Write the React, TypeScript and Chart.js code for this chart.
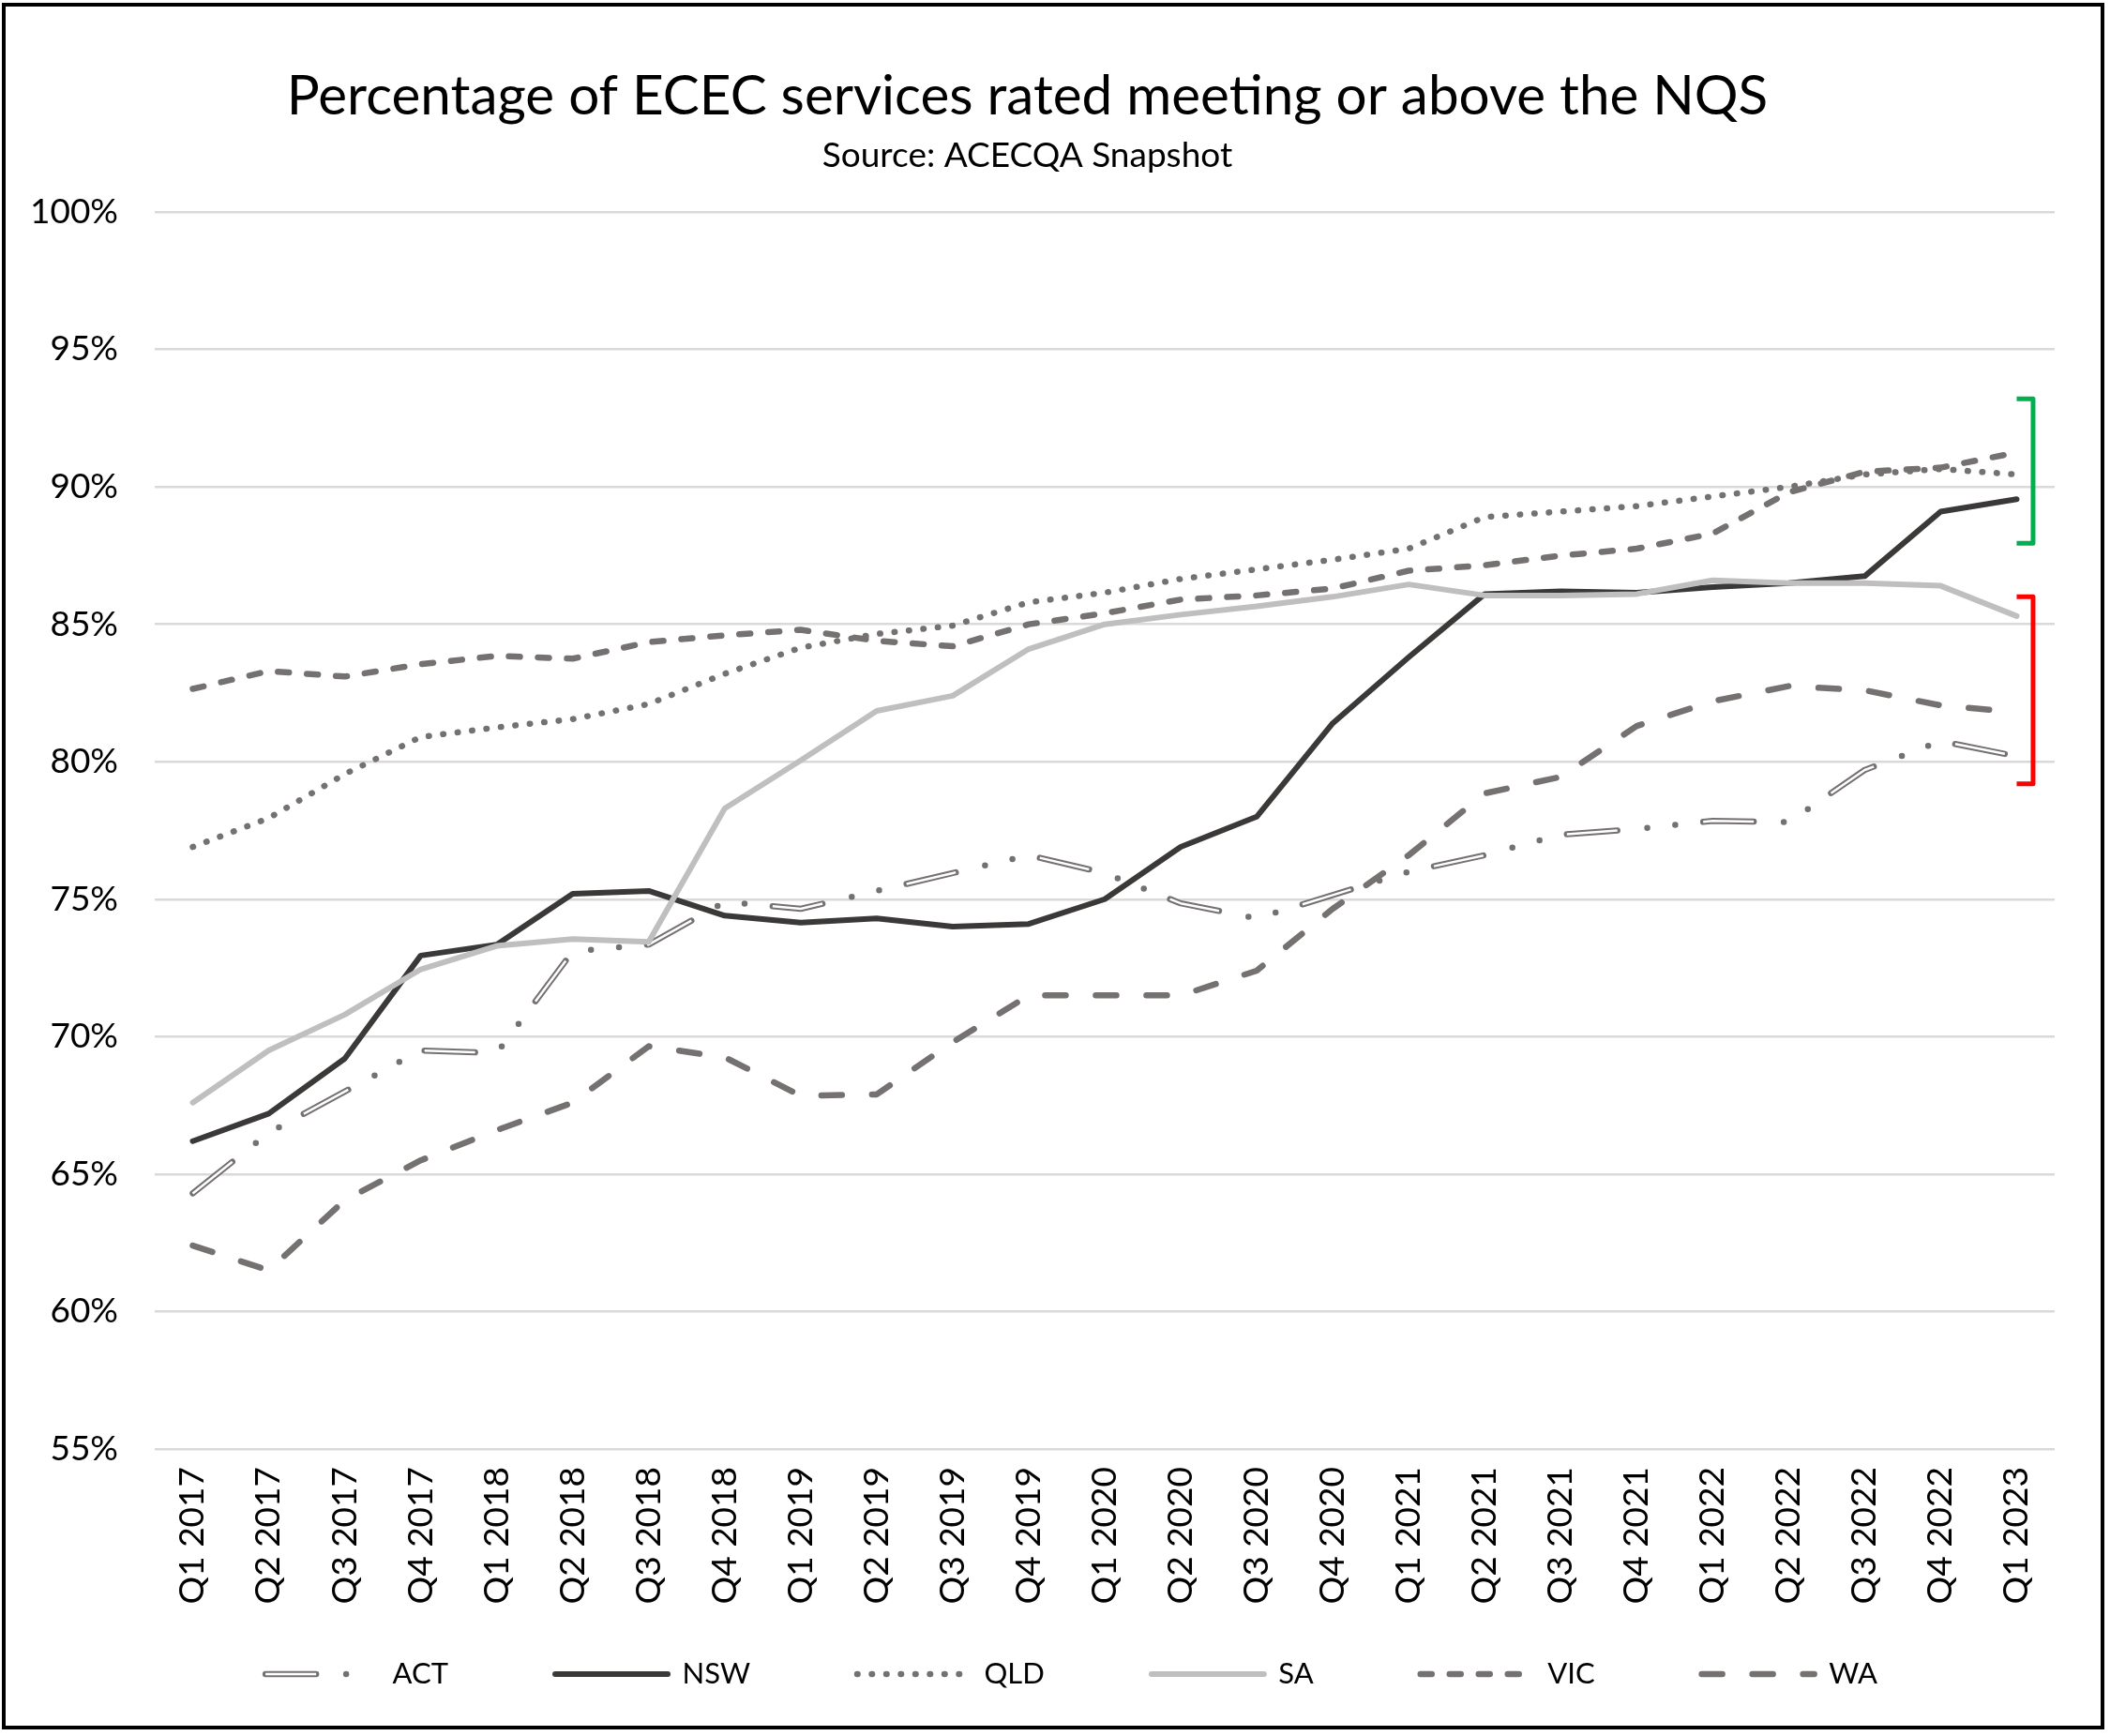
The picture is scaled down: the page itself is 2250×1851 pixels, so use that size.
import React, { useEffect, useRef } from "react";
import { Chart, registerables } from "chart.js";

Chart.register(...registerables);

const quarters = [
  "Q1 2017", "Q2 2017", "Q3 2017", "Q4 2017",
  "Q1 2018", "Q2 2018", "Q3 2018", "Q4 2018",
  "Q1 2019", "Q2 2019", "Q3 2019", "Q4 2019",
  "Q1 2020", "Q2 2020", "Q3 2020", "Q4 2020",
  "Q1 2021", "Q2 2021", "Q3 2021", "Q4 2021",
  "Q1 2022", "Q2 2022", "Q3 2022", "Q4 2022",
  "Q1 2023",
];

const actValues = [64.3, 66.5, 68.0, 69.5, 69.4, 73.1, 73.35, 74.9, 74.65, 75.3, 75.95, 76.6, 75.95, 74.85, 74.3, 75.15, 76.0, 76.6, 77.35, 77.55, 77.85, 77.8, 79.7, 80.75, 80.2];
const nswValues = [66.2, 67.2, 69.2, 72.95, 73.35, 75.2, 75.3, 74.4, 74.15, 74.3, 74.0, 74.1, 75.0, 76.9, 78.0, 81.4, 83.8, 86.1, 86.2, 86.15, 86.35, 86.5, 86.75, 89.1, 89.55];
const qldValues = [76.9, 77.95, 79.55, 80.9, 81.25, 81.55, 82.1, 83.2, 84.15, 84.65, 84.95, 85.8, 86.15, 86.65, 87.0, 87.35, 87.75, 88.9, 89.1, 89.3, 89.65, 90.0, 90.45, 90.65, 90.45];
const saValues = [67.6, 69.5, 70.8, 72.45, 73.3, 73.55, 73.45, 78.3, 80.05, 81.85, 82.4, 84.1, 85.0, 85.35, 85.65, 86.0, 86.45, 86.05, 86.05, 86.1, 86.6, 86.5, 86.5, 86.4, 85.3];
const vicValues = [82.65, 83.3, 83.1, 83.55, 83.85, 83.75, 84.35, 84.6, 84.8, 84.4, 84.2, 85.0, 85.4, 85.9, 86.05, 86.3, 86.95, 87.15, 87.5, 87.75, 88.3, 89.8, 90.55, 90.7, 91.25];
const waValues = [62.4, 61.5, 64.05, 65.5, 66.6, 67.6, 69.65, 69.25, 67.85, 67.9, 69.8, 71.5, 71.5, 71.5, 72.4, 74.65, 76.6, 78.85, 79.45, 81.3, 82.2, 82.75, 82.6, 82.05, 81.8];

const greenBracket = [93.2, 87.95];
const redBracket = [86.0, 79.2];

const titleText = "Percentage of ECEC services rated meeting or above the NQS";
const subtitleText = "Source: ACECQA Snapshot";

export default function App() {
  const ref = useRef<HTMLCanvasElement>(null);

  useEffect(() => {
    const canvas = ref.current;
    if (!canvas) return;
    const FONT = "Lato";
    const gray = "#767171";
    const LEGEND_FONT = 31;
    const LEGEND_BOX = 120;

    const legendDash: Record<string, number[]> = {
      ACT: [54, 32, 0, 200],
    };

    const extras = {
      id: "extras",
      afterUpdate(chart: any) {
        const lg = chart.legend;
        if (lg) {
          const dx = 47;
          const dy = -64.5;
          lg.left += dx;
          lg.right += dx;
          lg.top += dy;
          lg.height -= dy;
          (lg.legendHitBoxes || []).forEach((h: any) => {
            h.left += dx;
            h.top += dy;
          });
        }
      },
      afterDraw(chart: any) {
        const ctx = chart.ctx;
        const xs = chart.scales.x;
        const ys = chart.scales.y;
        const x0 = xs.getPixelForValue(quarters.length - 1);
        const drawBracket = (vals: number[], color: string) => {
          const yt = ys.getPixelForValue(vals[0]);
          const yb = ys.getPixelForValue(vals[1]);
          ctx.save();
          ctx.strokeStyle = color;
          ctx.lineWidth = 5;
          ctx.lineJoin = "round";
          ctx.lineCap = "butt";
          ctx.setLineDash([]);
          ctx.beginPath();
          ctx.moveTo(x0, yt);
          ctx.lineTo(x0 + 17.5, yt);
          ctx.lineTo(x0 + 17.5, yb);
          ctx.lineTo(x0, yb);
          ctx.stroke();
          ctx.restore();
        };
        drawBracket(greenBracket, "#00B050");
        drawBracket(redBracket, "#FF0000");
        const lg = chart.legend;
        if (lg && lg.legendHitBoxes && lg.legendHitBoxes[0]) {
          const hb = lg.legendHitBoxes[0];
          const cy = hb.top + LEGEND_FONT / 2;
          ctx.save();
          ctx.strokeStyle = "#ffffff";
          ctx.lineWidth = 2.5;
          ctx.setLineDash([]);
          ctx.beginPath();
          ctx.moveTo(hb.left, cy);
          ctx.lineTo(hb.left + 54, cy);
          ctx.stroke();
          ctx.restore();
        }
      },
    };

    const chart = new Chart(canvas, {
      type: "line",
      data: {
        labels: quarters,
        datasets: [
          { label: "ACT", data: actValues, borderColor: gray, backgroundColor: gray, borderWidth: 6.5, borderDash: [54, 32, 0, 30, 0, 30], borderCapStyle: "round", order: 7 },
          { label: "ACT-core", data: actValues, borderColor: "#ffffff", backgroundColor: "#ffffff", borderWidth: 2.5, borderDash: [54, 92], borderCapStyle: "butt", order: 6 },
          { label: "NSW", data: nswValues, borderColor: "#3B3838", backgroundColor: "#3B3838", borderWidth: 6, borderCapStyle: "round", order: 5 },
          { label: "QLD", data: qldValues, borderColor: gray, backgroundColor: gray, borderWidth: 6.5, borderDash: [0.5, 15], borderCapStyle: "round", order: 4 },
          { label: "SA", data: saValues, borderColor: "#BFBFBF", backgroundColor: "#BFBFBF", borderWidth: 6, borderCapStyle: "round", order: 3 },
          { label: "VIC", data: vicValues, borderColor: gray, backgroundColor: gray, borderWidth: 6.5, borderDash: [12, 19], borderCapStyle: "round", order: 2 },
          { label: "WA", data: waValues, borderColor: gray, backgroundColor: gray, borderWidth: 6.5, borderDash: [22, 32], borderCapStyle: "round", order: 1 },
        ] as any,
      },
      options: {
        responsive: false,
        animation: false,
        devicePixelRatio: 1,
        elements: {
          point: { radius: 0, hoverRadius: 0 },
          line: { tension: 0, borderJoinStyle: "round" },
        },
        layout: { padding: { top: 0, right: 59, bottom: 0, left: 0 } },
        plugins: {
          tooltip: { enabled: false },
          title: {
            display: true,
            text: titleText,
            color: "#000",
            font: { family: FONT, size: 58.4, weight: "normal", lineHeight: 1.2 },
            padding: { top: 68, bottom: 0 },
          },
          subtitle: {
            display: true,
            text: subtitleText,
            color: "#000",
            font: { family: FONT, size: 37, weight: "normal", lineHeight: 1.2 },
            padding: { top: 6, bottom: 37.5 },
          },
          legend: {
            display: true,
            position: "bottom",
            align: "center",
            maxHeight: 131,
            labels: {
              usePointStyle: true,
              pointStyleWidth: LEGEND_BOX,
              boxHeight: LEGEND_FONT,
              padding: 114,
              color: "#000",
              font: { family: FONT, size: LEGEND_FONT },
              filter: (item: any) => item.text !== "ACT-core",
              generateLabels: (ch: any) =>
                ch.data.datasets.map((ds: any, i: number) => ({
                  text: ds.label,
                  datasetIndex: i,
                  fillStyle: ds.borderColor,
                  strokeStyle: ds.borderColor,
                  fontColor: "#000",
                  lineWidth: ds.borderWidth,
                  lineDash: legendDash[ds.label] || ds.borderDash || [],
                  lineDashOffset: 0,
                  lineCap: ds.borderCapStyle,
                  lineJoin: "round",
                  pointStyle: "line",
                  rotation: 0,
                  hidden: false,
                })),
            },
          },
        },
        scales: {
          x: {
            type: "category",
            offset: true,
            grid: { display: false, drawTicks: false },
            border: { display: false },
            ticks: {
              autoSkip: false,
              minRotation: 90,
              maxRotation: 90,
              padding: 19,
              color: "#000",
              font: { family: FONT, size: 37 },
            },
            afterFit: (scale: any) => {
              scale.height = 175;
            },
          },
          y: {
            min: 55,
            max: 100,
            grid: { color: "#D9D9D9", lineWidth: 2.5, drawTicks: false },
            border: { display: false },
            ticks: {
              stepSize: 5,
              padding: 39,
              color: "#000",
              font: { family: FONT, size: 37 },
              callback: (v: any) => `${v}%`,
            },
            afterFit: (scale: any) => {
              scale.width = 165;
            },
          },
        },
      },
      plugins: [extras],
    });

    return () => chart.destroy();
  }, []);

  return (
    <div style={{ position: "absolute", left: 0, top: 0, width: 2250, height: 1851, background: "#fff" }}>
      <canvas ref={ref} width={2250} height={1851} style={{ display: "block", width: 2250, height: 1851 }} />
      <div
        style={{
          position: "absolute",
          left: 2,
          top: 3,
          width: 2242,
          height: 1841,
          border: "4px solid #000",
          boxSizing: "border-box",
          pointerEvents: "none",
        }}
      />
    </div>
  );
}
